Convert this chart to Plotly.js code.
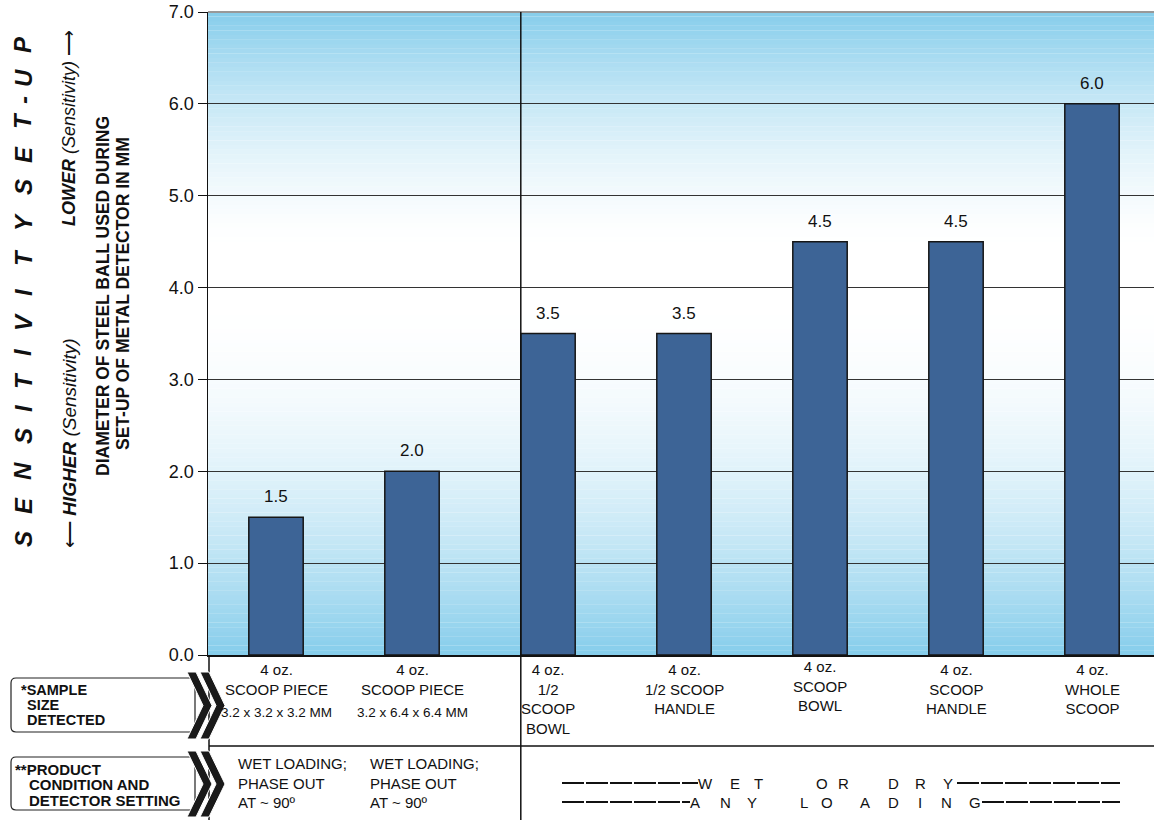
<!DOCTYPE html>
<html>
<head>
<meta charset="utf-8">
<script src="https://cdn.plot.ly/plotly-3.0.1.min.js"></script>
<style>html,body{margin:0;padding:0;background:#fff;}#chart{width:1154px;height:820px;}</style>
</head>
<body>
<div id="chart"></div>
<script>
// ---- data ----
const categories = [0, 1, 2, 3, 4, 5, 6];
const ballDiameter = [1.5, 2.0, 3.5, 3.5, 4.5, 4.5, 6.0];
const sampleSize = [
  "4 oz.<br>SCOOP PIECE",
  "4 oz.<br>SCOOP PIECE",
  "4 oz.<br>1/2<br>SCOOP<br>BOWL",
  "4 oz.<br>1/2 SCOOP<br>HANDLE",
  "4 oz.<br>SCOOP<br>BOWL",
  "4 oz.<br>SCOOP<br>HANDLE",
  "4 oz.<br>WHOLE<br>SCOOP"
];
const sampleDims = ["3.2 x 3.2 x 3.2 MM", "3.2 x 6.4 x 6.4 MM", "", "", "", "", ""];
const productCondition = ["WET LOADING;<br>PHASE OUT<br>AT ~ 90º", "WET LOADING;<br>PHASE OUT<br>AT ~ 90º"];
const anyCondition = ["WETORDRY", "ANYLOADING"];
const sensTitle = "SENSITIVITYSET-UP";
const yTicks = [0, 1, 2, 3, 4, 5, 6, 7];

// ---- layout helpers (pixel -> paper) ----
const W = 1154, H = 820, L = 208, T = 12, B = 165;
const PW = W - L, PH = H - T - B;
const px = x => (x - L) / PW;
const py = y => (H - B - y) / PH;
const FONT = "Liberation Sans, Arial, sans-serif";
const INK = '#111';

const shapes = [];
// gradient background strips
const blue = [134, 205, 235];
function blend(b) {
  const c = blue.map(v => Math.round(255 - (255 - v) * b));
  return `rgb(${c[0]},${c[1]},${c[2]})`;
}
for (let i = 0; i < 140; i++) {
  const y0 = i * 0.05, y1 = y0 + 0.05, v = y0 + 0.025;
  let b;
  if (v >= 4.4) b = Math.pow((v - 4.4) / 2.6, 1.6);
  else if (v <= 3.9) b = Math.pow((3.9 - v) / 3.9, 1.9);
  else b = 0;
  shapes.push({type: 'rect', xref: 'paper', yref: 'y', x0: 0, x1: 1, y0: y0, y1: y1 + 0.002,
    fillcolor: blend(b), line: {width: 0}, layer: 'below'});
}
// top border
shapes.push({type: 'line', xref: 'paper', yref: 'paper', x0: 0, x1: 1, y0: 1, y1: 1, line: {color: '#999', width: 2}});
// divider between columns
shapes.push({type: 'line', xref: 'x', yref: 'paper', x0: 1.8, x1: 1.8, y0: py(820), y1: 1, line: {color: INK, width: 1.5}, layer: 'above'});
// table left border
shapes.push({type: 'line', xref: 'paper', yref: 'paper', x0: px(209), x1: px(209), y0: py(820), y1: 0, line: {color: INK, width: 1.5}});
// table horizontal line
shapes.push({type: 'line', xref: 'paper', yref: 'paper', x0: px(209), x1: 1, y0: py(746), y1: py(746), line: {color: INK, width: 1.5}});
// left boxes
function roundRect(x0, y0, x1, y1, r) {
  const X = v => px(v), Y = v => py(v);
  return `M ${X(x0 + r)} ${Y(y0)} L ${X(x1)} ${Y(y0)} L ${X(x1)} ${Y(y1)} L ${X(x0 + r)} ${Y(y1)} ` +
    `Q ${X(x0)} ${Y(y1)} ${X(x0)} ${Y(y1 - r)} L ${X(x0)} ${Y(y0 + r)} Q ${X(x0)} ${Y(y0)} ${X(x0 + r)} ${Y(y0)} Z`;
}
shapes.push({type: 'path', xref: 'paper', yref: 'paper', path: roundRect(11, 678, 195, 732, 5), fillcolor: 'white', line: {color: '#222', width: 1.2}});
shapes.push({type: 'path', xref: 'paper', yref: 'paper', path: roundRect(11, 757, 195, 810, 5), fillcolor: 'white', line: {color: '#222', width: 1.2}});
// chevrons
function chevron(x0, yt, yb, t, d) {
  const ym = (yt + yb) / 2;
  const pts = [[x0, yt], [x0 + t, yt], [x0 + d + t, ym], [x0 + t, yb], [x0, yb], [x0 + d, ym]];
  return 'M ' + pts.map(p => `${px(p[0])} ${py(p[1])}`).join(' L ') + ' Z';
}
[[672, 739], [751, 817]].forEach(([yt, yb]) => {
  shapes.push({type: 'path', xref: 'paper', yref: 'paper', path: chevron(187, yt, yb, 9, 16), fillcolor: '#1a1a1a', line: {color: 'white', width: 1}});
  shapes.push({type: 'path', xref: 'paper', yref: 'paper', path: chevron(200, yt, yb, 9, 16), fillcolor: '#1a1a1a', line: {color: 'white', width: 1}});
});
// dashed rules around "wet or dry" / "any loading"
[[783, 562, 698, 957, 1120], [802, 562, 690, 982, 1120]].forEach(([y, a0, a1, b0, b1]) => {
  shapes.push({type: 'line', xref: 'paper', yref: 'paper', x0: px(a0), x1: px(a1), y0: py(y), y1: py(y), line: {color: INK, width: 1.8, dash: '22px,2px'}});
  shapes.push({type: 'line', xref: 'paper', yref: 'paper', x0: px(b0), x1: px(b1), y0: py(y), y1: py(y), line: {color: INK, width: 1.8, dash: '22px,2px'}});
});

const annotations = [];
function note(x, y, text, opts) {
  annotations.push(Object.assign({x: px(x), y: py(y), xref: 'paper', yref: 'paper', text: text, showarrow: false,
    xanchor: 'center', yanchor: 'middle', font: {family: FONT, size: 15, color: INK}}, opts || {}));
}
// bar value labels
categories.forEach((c, i) => {
  annotations.push({x: c, y: ballDiameter[i], xref: 'x', yref: 'y', text: ballDiameter[i].toFixed(1),
    showarrow: false, xanchor: 'center', yanchor: 'bottom', yshift: 9, font: {family: FONT, size: 17, color: INK}});
});
// sample size row
categories.forEach((c, i) => {
  const yTop = (i === 4) ? 656 : 659;
  annotations.push({x: c, y: py(yTop), xref: 'x', yref: 'paper', text: sampleSize[i], showarrow: false,
    xanchor: 'center', yanchor: 'top', align: 'center', font: {family: FONT, size: 15, color: INK}});
  if (sampleDims[i]) {
    annotations.push({x: c, y: py(712), xref: 'x', yref: 'paper', text: sampleDims[i], showarrow: false,
      xanchor: 'center', yanchor: 'middle', font: {family: FONT, size: 13.5, color: INK}});
  }
});
// product condition row
productCondition.forEach((t, i) => {
  note([236, 368][i], 753, t, {xanchor: 'left', yanchor: 'top', align: 'left'});
});
// spaced-letter captions
const row1X = [705, 735, 758, 822, 843, 893, 920, 948];
const row2X = [695, 725, 752, 804, 827, 865, 893, 920, 946, 975];
anyCondition[0].split('').forEach((ch, i) => note(row1X[i], 783, ch, {font: {family: FONT, size: 15, color: INK}}));
anyCondition[1].split('').forEach((ch, i) => note(row2X[i], 802, ch, {font: {family: FONT, size: 15, color: INK}}));
// left box labels
note(19, 690, '<b>*SAMPLE</b>', {xanchor: 'left', font: {family: FONT, size: 14.5, color: INK}});
note(25, 705, '<b>SIZE</b>', {xanchor: 'left', font: {family: FONT, size: 14.5, color: INK}});
note(25, 720, '<b>DETECTED</b>', {xanchor: 'left', font: {family: FONT, size: 14.5, color: INK}});
note(13, 769, '<b>**PRODUCT</b>', {xanchor: 'left', font: {family: FONT, size: 15, color: INK}});
note(27, 785, '<b>CONDITION AND</b>', {xanchor: 'left', font: {family: FONT, size: 15, color: INK}});
note(27, 800, '<b>DETECTOR SETTING</b>', {xanchor: 'left', font: {family: FONT, size: 15, color: INK}});
// big spaced vertical title
const titleY = [539, 506, 471, 436, 408, 381, 352, 322, 292, 258, 222, 187, 155, 121, 100, 78, 45];
sensTitle.split('').forEach((ch, i) => note(23, titleY[i], '<b><i>' + ch + '</i></b>',
  {textangle: -90, font: {family: FONT, size: 24, color: INK}}));
// sensitivity direction captions
note(69, 443, '⟵ <b><i>HIGHER</i></b> <i>(Sensitivity)</i>', {textangle: -90, font: {family: FONT, size: 19, color: INK}});
note(69, 128, '<b><i>LOWER</i></b> <i>(Sensitivity)</i> ⟶', {textangle: -90, font: {family: FONT, size: 18, color: INK}});
// axis title (two lines)
note(103, 296, '<b>DIAMETER OF STEEL BALL USED DURING</b>', {textangle: -90, font: {family: FONT, size: 17.5, color: INK}});
note(123, 294, '<b>SET-UP OF METAL DETECTOR IN MM</b>', {textangle: -90, font: {family: FONT, size: 17.5, color: INK}});

const trace = {
  type: 'bar', x: categories, y: ballDiameter, width: 0.4,
  marker: {color: '#3D6496', line: {color: '#161616', width: 1.5}},
  hoverinfo: 'skip'
};

const layout = {
  width: W, height: H,
  margin: {l: L, r: 0, t: T, b: B, pad: 0},
  paper_bgcolor: 'white', plot_bgcolor: 'rgba(0,0,0,0)',
  showlegend: false,
  xaxis: {range: [-0.5, -0.5 + PW / 136], showticklabels: false, ticks: '', showgrid: false, zeroline: false,
    showline: true, linecolor: INK, linewidth: 1.5, fixedrange: true},
  yaxis: {range: [0, 7], tickvals: yTicks, ticktext: yTicks.map(v => v.toFixed(1)), ticks: 'outside', ticklen: 9,
    tickcolor: INK, tickwidth: 1, showline: true, linecolor: INK, linewidth: 1.5,
    gridcolor: '#333', gridwidth: 1, zeroline: false, tickfont: {family: FONT, size: 18, color: INK}, fixedrange: true},
  shapes: shapes,
  annotations: annotations
};

Plotly.newPlot('chart', [trace], layout, {displayModeBar: false, staticPlot: true});
</script>
</body>
</html>
